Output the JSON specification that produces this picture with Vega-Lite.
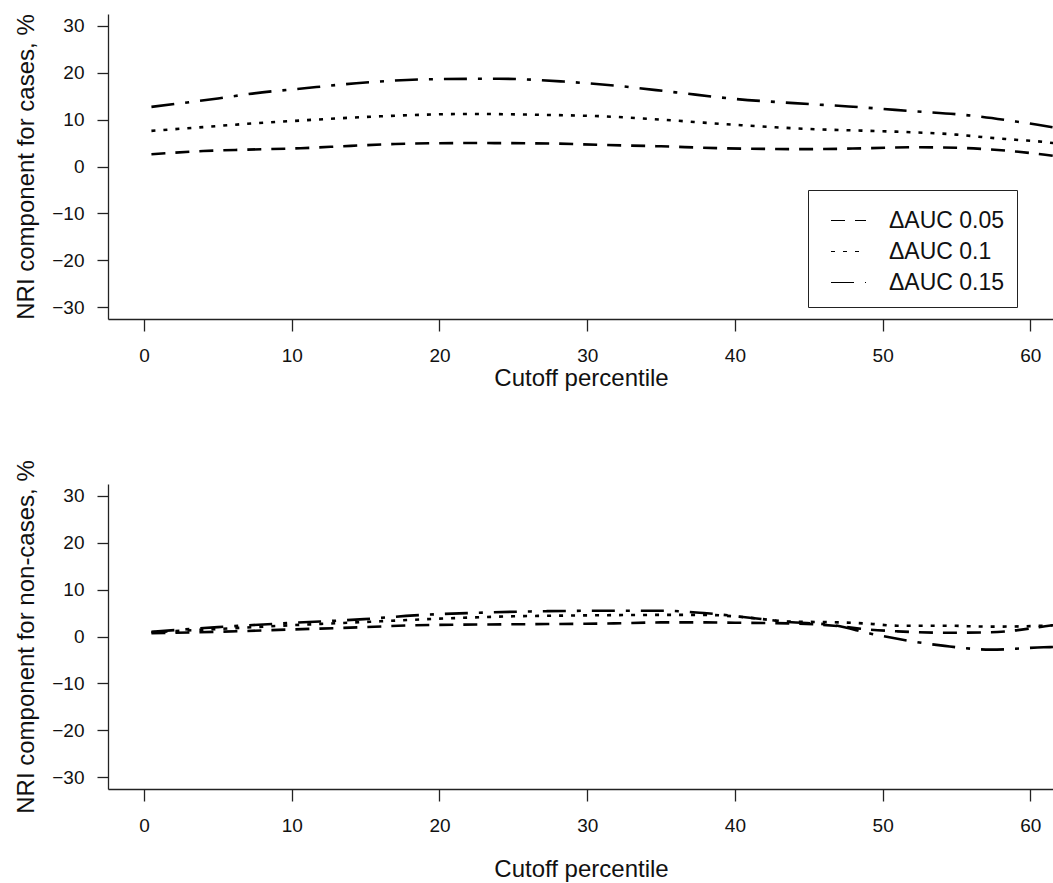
{
  "$schema": "https://vega.github.io/schema/vega-lite/v6.json",
  "padding": {"left": 13, "top": 13, "right": 0, "bottom": 5},
  "background": "white",
  "bounds": "flush",
  "spacing": 165,
  "config": {
    "view": {"stroke": null},
    "font": "Liberation Sans",
    "axis": {
      "grid": false,
      "labelFont": "Liberation Sans",
      "titleFont": "Liberation Sans",
      "labelFontSize": 19,
      "titleFontSize": 24,
      "titleFontWeight": "normal",
      "labelColor": "#111",
      "titleColor": "#111",
      "domainColor": "#222",
      "tickColor": "#222",
      "domainWidth": 1.3,
      "tickWidth": 1.3
    },
    "legend": {
      "labelFont": "Liberation Sans",
      "labelFontSize": 23,
      "labelColor": "#111"
    }
  },
  "datasets": {
    "nri": [
      {"panel": "cases", "series": "ΔAUC 0.05", "x": 0.5, "y": 2.6},
      {"panel": "cases", "series": "ΔAUC 0.05", "x": 4, "y": 3.3},
      {"panel": "cases", "series": "ΔAUC 0.05", "x": 7, "y": 3.6},
      {"panel": "cases", "series": "ΔAUC 0.05", "x": 10.6, "y": 3.9},
      {"panel": "cases", "series": "ΔAUC 0.05", "x": 14, "y": 4.4},
      {"panel": "cases", "series": "ΔAUC 0.05", "x": 17, "y": 4.8},
      {"panel": "cases", "series": "ΔAUC 0.05", "x": 22, "y": 5.0},
      {"panel": "cases", "series": "ΔAUC 0.05", "x": 27.6, "y": 4.9},
      {"panel": "cases", "series": "ΔAUC 0.05", "x": 31, "y": 4.6},
      {"panel": "cases", "series": "ΔAUC 0.05", "x": 35, "y": 4.3},
      {"panel": "cases", "series": "ΔAUC 0.05", "x": 39, "y": 3.9},
      {"panel": "cases", "series": "ΔAUC 0.05", "x": 45, "y": 3.7},
      {"panel": "cases", "series": "ΔAUC 0.05", "x": 49, "y": 3.9},
      {"panel": "cases", "series": "ΔAUC 0.05", "x": 52, "y": 4.1},
      {"panel": "cases", "series": "ΔAUC 0.05", "x": 55, "y": 4.0},
      {"panel": "cases", "series": "ΔAUC 0.05", "x": 57, "y": 3.7},
      {"panel": "cases", "series": "ΔAUC 0.05", "x": 59, "y": 3.2},
      {"panel": "cases", "series": "ΔAUC 0.05", "x": 61, "y": 2.5},
      {"panel": "cases", "series": "ΔAUC 0.05", "x": 62, "y": 2.1},
      {"panel": "cases", "series": "ΔAUC 0.1", "x": 0.5, "y": 7.6},
      {"panel": "cases", "series": "ΔAUC 0.1", "x": 4, "y": 8.4},
      {"panel": "cases", "series": "ΔAUC 0.1", "x": 7, "y": 9.1},
      {"panel": "cases", "series": "ΔAUC 0.1", "x": 10.6, "y": 9.8},
      {"panel": "cases", "series": "ΔAUC 0.1", "x": 16, "y": 10.7},
      {"panel": "cases", "series": "ΔAUC 0.1", "x": 22, "y": 11.2},
      {"panel": "cases", "series": "ΔAUC 0.1", "x": 27, "y": 11.0},
      {"panel": "cases", "series": "ΔAUC 0.1", "x": 31, "y": 10.7},
      {"panel": "cases", "series": "ΔAUC 0.1", "x": 35, "y": 10.0},
      {"panel": "cases", "series": "ΔAUC 0.1", "x": 39, "y": 9.1},
      {"panel": "cases", "series": "ΔAUC 0.1", "x": 45, "y": 8.0},
      {"panel": "cases", "series": "ΔAUC 0.1", "x": 49, "y": 7.6},
      {"panel": "cases", "series": "ΔAUC 0.1", "x": 52, "y": 7.3},
      {"panel": "cases", "series": "ΔAUC 0.1", "x": 55, "y": 6.8},
      {"panel": "cases", "series": "ΔAUC 0.1", "x": 57, "y": 6.2},
      {"panel": "cases", "series": "ΔAUC 0.1", "x": 59, "y": 5.7},
      {"panel": "cases", "series": "ΔAUC 0.1", "x": 61, "y": 5.2},
      {"panel": "cases", "series": "ΔAUC 0.1", "x": 62, "y": 4.8},
      {"panel": "cases", "series": "ΔAUC 0.15", "x": 0.5, "y": 12.7},
      {"panel": "cases", "series": "ΔAUC 0.15", "x": 5, "y": 14.5},
      {"panel": "cases", "series": "ΔAUC 0.15", "x": 8, "y": 15.8},
      {"panel": "cases", "series": "ΔAUC 0.15", "x": 10, "y": 16.4},
      {"panel": "cases", "series": "ΔAUC 0.15", "x": 15, "y": 17.9},
      {"panel": "cases", "series": "ΔAUC 0.15", "x": 19.4, "y": 18.6},
      {"panel": "cases", "series": "ΔAUC 0.15", "x": 24, "y": 18.7},
      {"panel": "cases", "series": "ΔAUC 0.15", "x": 28.4, "y": 18.1},
      {"panel": "cases", "series": "ΔAUC 0.15", "x": 32, "y": 17.2},
      {"panel": "cases", "series": "ΔAUC 0.15", "x": 36, "y": 15.8},
      {"panel": "cases", "series": "ΔAUC 0.15", "x": 40, "y": 14.4},
      {"panel": "cases", "series": "ΔAUC 0.15", "x": 44, "y": 13.5},
      {"panel": "cases", "series": "ΔAUC 0.15", "x": 47.7, "y": 12.8},
      {"panel": "cases", "series": "ΔAUC 0.15", "x": 52, "y": 11.8},
      {"panel": "cases", "series": "ΔAUC 0.15", "x": 55.8, "y": 10.9},
      {"panel": "cases", "series": "ΔAUC 0.15", "x": 59, "y": 9.6},
      {"panel": "cases", "series": "ΔAUC 0.15", "x": 60.5, "y": 8.9},
      {"panel": "cases", "series": "ΔAUC 0.15", "x": 62, "y": 8.1},
      {"panel": "noncases", "series": "ΔAUC 0.05", "x": 0.5, "y": 0.7},
      {"panel": "noncases", "series": "ΔAUC 0.05", "x": 5, "y": 1.0},
      {"panel": "noncases", "series": "ΔAUC 0.05", "x": 10, "y": 1.5},
      {"panel": "noncases", "series": "ΔAUC 0.05", "x": 15, "y": 2.0},
      {"panel": "noncases", "series": "ΔAUC 0.05", "x": 18.3, "y": 2.4},
      {"panel": "noncases", "series": "ΔAUC 0.05", "x": 25, "y": 2.6},
      {"panel": "noncases", "series": "ΔAUC 0.05", "x": 31.8, "y": 2.8},
      {"panel": "noncases", "series": "ΔAUC 0.05", "x": 35, "y": 3.0},
      {"panel": "noncases", "series": "ΔAUC 0.05", "x": 38, "y": 3.0},
      {"panel": "noncases", "series": "ΔAUC 0.05", "x": 41, "y": 2.9},
      {"panel": "noncases", "series": "ΔAUC 0.05", "x": 43.6, "y": 2.8},
      {"panel": "noncases", "series": "ΔAUC 0.05", "x": 46.7, "y": 2.3},
      {"panel": "noncases", "series": "ΔAUC 0.05", "x": 49, "y": 1.5},
      {"panel": "noncases", "series": "ΔAUC 0.05", "x": 51, "y": 1.1},
      {"panel": "noncases", "series": "ΔAUC 0.05", "x": 54.2, "y": 0.8},
      {"panel": "noncases", "series": "ΔAUC 0.05", "x": 57.3, "y": 0.9},
      {"panel": "noncases", "series": "ΔAUC 0.05", "x": 59, "y": 1.3},
      {"panel": "noncases", "series": "ΔAUC 0.05", "x": 61, "y": 2.2},
      {"panel": "noncases", "series": "ΔAUC 0.05", "x": 62, "y": 2.6},
      {"panel": "noncases", "series": "ΔAUC 0.1", "x": 0.5, "y": 0.9},
      {"panel": "noncases", "series": "ΔAUC 0.1", "x": 5, "y": 1.6},
      {"panel": "noncases", "series": "ΔAUC 0.1", "x": 10, "y": 2.4},
      {"panel": "noncases", "series": "ΔAUC 0.1", "x": 15, "y": 3.1},
      {"panel": "noncases", "series": "ΔAUC 0.1", "x": 20, "y": 3.8},
      {"panel": "noncases", "series": "ΔAUC 0.1", "x": 25, "y": 4.3},
      {"panel": "noncases", "series": "ΔAUC 0.1", "x": 30, "y": 4.5},
      {"panel": "noncases", "series": "ΔAUC 0.1", "x": 35, "y": 4.6},
      {"panel": "noncases", "series": "ΔAUC 0.1", "x": 38, "y": 4.6},
      {"panel": "noncases", "series": "ΔAUC 0.1", "x": 41, "y": 4.0},
      {"panel": "noncases", "series": "ΔAUC 0.1", "x": 43.6, "y": 3.2},
      {"panel": "noncases", "series": "ΔAUC 0.1", "x": 47.2, "y": 3.0},
      {"panel": "noncases", "series": "ΔAUC 0.1", "x": 49.2, "y": 2.7},
      {"panel": "noncases", "series": "ΔAUC 0.1", "x": 51, "y": 2.3},
      {"panel": "noncases", "series": "ΔAUC 0.1", "x": 54.2, "y": 2.3},
      {"panel": "noncases", "series": "ΔAUC 0.1", "x": 57.3, "y": 2.1},
      {"panel": "noncases", "series": "ΔAUC 0.1", "x": 61, "y": 2.3},
      {"panel": "noncases", "series": "ΔAUC 0.1", "x": 62, "y": 2.5},
      {"panel": "noncases", "series": "ΔAUC 0.15", "x": 0.5, "y": 1.0},
      {"panel": "noncases", "series": "ΔAUC 0.15", "x": 5, "y": 2.0},
      {"panel": "noncases", "series": "ΔAUC 0.15", "x": 10, "y": 2.9},
      {"panel": "noncases", "series": "ΔAUC 0.15", "x": 14.9, "y": 3.7},
      {"panel": "noncases", "series": "ΔAUC 0.15", "x": 18.3, "y": 4.5},
      {"panel": "noncases", "series": "ΔAUC 0.15", "x": 22, "y": 5.0},
      {"panel": "noncases", "series": "ΔAUC 0.15", "x": 27.3, "y": 5.4},
      {"panel": "noncases", "series": "ΔAUC 0.15", "x": 31.8, "y": 5.5},
      {"panel": "noncases", "series": "ΔAUC 0.15", "x": 35, "y": 5.5},
      {"panel": "noncases", "series": "ΔAUC 0.15", "x": 37.9, "y": 5.0},
      {"panel": "noncases", "series": "ΔAUC 0.15", "x": 41, "y": 4.0},
      {"panel": "noncases", "series": "ΔAUC 0.15", "x": 43.6, "y": 3.1},
      {"panel": "noncases", "series": "ΔAUC 0.15", "x": 46.7, "y": 2.4},
      {"panel": "noncases", "series": "ΔAUC 0.15", "x": 49.2, "y": 0.6},
      {"panel": "noncases", "series": "ΔAUC 0.15", "x": 51, "y": -0.5},
      {"panel": "noncases", "series": "ΔAUC 0.15", "x": 54.2, "y": -2.0},
      {"panel": "noncases", "series": "ΔAUC 0.15", "x": 57.3, "y": -2.8},
      {"panel": "noncases", "series": "ΔAUC 0.15", "x": 60.9, "y": -2.3},
      {"panel": "noncases", "series": "ΔAUC 0.15", "x": 62, "y": -2.2}
    ]
  },
  "vconcat": [
    {
      "width": 946,
      "height": 305,
      "layer": [
        {
          "mark": {"type": "rule", "color": "#444", "strokeWidth": 1.2},
          "encoding": {"y": {"datum": 0, "type": "quantitative", "scale": {"domain": [-32.5, 32.5], "nice": false, "zero": false}}}
        },
        {
          "data": {"name": "nri"},
          "transform": [{"filter": "datum.panel === 'cases'"}],
          "mark": {"type": "line", "clip": true, "color": "black", "strokeWidth": 2.6, "interpolate": "monotone"},
          "encoding": {
            "x": {"field": "x", "type": "quantitative", "scale": {"domain": [-2.44, 61.6], "nice": false, "zero": false},
              "axis": {"values": [0, 10, 20, 30, 40, 50, 60], "tickSize": 12, "labelPadding": 15, "title": "Cutoff percentile", "titlePadding": 1}},
            "y": {"field": "y", "type": "quantitative", "scale": {"domain": [-32.5, 32.5], "nice": false, "zero": false},
              "axis": {"values": [-30, -20, -10, 0, 10, 20, 30], "tickSize": 11, "labelPadding": 13, "title": "NRI component for cases, %", "titleX": -82, "titleBaseline": "middle"}},
            "strokeDash": {"field": "series", "type": "nominal",
              "scale": {"domain": ["ΔAUC 0.05", "ΔAUC 0.1", "ΔAUC 0.15"], "range": [[14, 10], [4, 8], [23, 11, 4, 11]]},
              "legend": {"title": null, "orient": "none", "legendX": 700, "legendY": 176, "symbolType": "stroke", "symbolSize": 1225, "symbolStrokeWidth": 1.2, "symbolStrokeColor": "black", "symbolOffset": 10, "strokeColor": "#222", "fillColor": "white", "padding": 12, "labelOffset": 22, "rowPadding": -6}}
          }
        }
      ]
    },
    {
      "width": 946,
      "height": 305,
      "layer": [
        {
          "mark": {"type": "rule", "color": "#444", "strokeWidth": 1.2},
          "encoding": {"y": {"datum": 0, "type": "quantitative", "scale": {"domain": [-32.5, 32.5], "nice": false, "zero": false}}}
        },
        {
          "data": {"name": "nri"},
          "transform": [{"filter": "datum.panel === 'noncases'"}],
          "mark": {"type": "line", "clip": true, "color": "black", "strokeWidth": 2.6, "interpolate": "monotone"},
          "encoding": {
            "x": {"field": "x", "type": "quantitative", "scale": {"domain": [-2.44, 61.6], "nice": false, "zero": false},
              "axis": {"values": [0, 10, 20, 30, 40, 50, 60], "tickSize": 12, "labelPadding": 15, "title": "Cutoff percentile", "titlePadding": 22}},
            "y": {"field": "y", "type": "quantitative", "scale": {"domain": [-32.5, 32.5], "nice": false, "zero": false},
              "axis": {"values": [-30, -20, -10, 0, 10, 20, 30], "tickSize": 11, "labelPadding": 13, "title": "NRI component for non-cases, %", "titleX": -82, "titleBaseline": "middle"}},
            "strokeDash": {"field": "series", "type": "nominal",
              "scale": {"domain": ["ΔAUC 0.05", "ΔAUC 0.1", "ΔAUC 0.15"], "range": [[14, 10], [4, 8], [23, 11, 4, 11]]},
              "legend": null}
          }
        }
      ]
    }
  ]
}
